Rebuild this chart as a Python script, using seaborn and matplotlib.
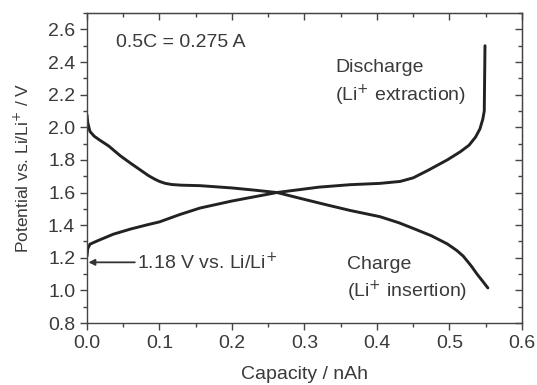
import numpy as np
import pandas as pd
import matplotlib
matplotlib.use("Agg")
import matplotlib.pyplot as plt
import seaborn as sns
from matplotlib.ticker import MultipleLocator

# Li+ insertion (charge), potential falls with capacity
charge_cap = [0.0, 0.001, 0.004, 0.010, 0.018, 0.030, 0.046, 0.060, 0.073, 0.085,
              0.093, 0.100, 0.108, 0.117, 0.130, 0.156, 0.200, 0.230, 0.262, 0.298,
              0.330, 0.363, 0.404, 0.430, 0.450, 0.475, 0.497, 0.510, 0.519, 0.530,
              0.538, 0.546, 0.553]
charge_v = [2.076, 2.03, 1.975, 1.945, 1.920, 1.885, 1.825, 1.780, 1.740, 1.703,
            1.683, 1.668, 1.656, 1.649, 1.645, 1.642, 1.628, 1.615, 1.600, 1.560,
            1.525, 1.490, 1.452, 1.415, 1.380, 1.335, 1.285, 1.245, 1.210, 1.150,
            1.100, 1.055, 1.015]

# Li+ extraction (discharge), potential rises with capacity
dis_cap = [0.0, 0.001, 0.004, 0.015, 0.036, 0.060, 0.083, 0.100, 0.128, 0.156,
           0.200, 0.262, 0.320, 0.363, 0.404, 0.432, 0.450, 0.470, 0.497, 0.515,
           0.527, 0.536, 0.542, 0.546, 0.548, 0.549]
dis_v = [1.21, 1.255, 1.283, 1.305, 1.344, 1.376, 1.402, 1.420, 1.465, 1.505,
         1.548, 1.600, 1.633, 1.648, 1.656, 1.668, 1.690, 1.735, 1.800, 1.850,
         1.890, 1.940, 1.990, 2.050, 2.100, 2.500]

df = pd.concat([
    pd.DataFrame({"cap": charge_cap, "v": charge_v, "run": "charge"}),
    pd.DataFrame({"cap": dis_cap, "v": dis_v, "run": "discharge"}),
])

sns.set_style("ticks")
plt.rcParams["font.family"] = ["Liberation Sans", "DejaVu Sans"]
txt = "#3a3a3a"
fs = 14

fig = plt.figure(figsize=(5.37, 3.85), dpi=100)
ax = fig.add_axes([0.162, 0.161, 0.810, 0.805])

sns.lineplot(data=df, x="cap", y="v", units="run", estimator=None, sort=False,
             color="#222222", linewidth=2.1, ax=ax)

ax.set_xlim(0.0, 0.6)
ax.set_ylim(0.8, 2.7)
ax.xaxis.set_major_locator(MultipleLocator(0.1))
ax.xaxis.set_minor_locator(MultipleLocator(0.05))
ax.yaxis.set_major_locator(MultipleLocator(0.2))
ax.yaxis.set_minor_locator(MultipleLocator(0.1))
ax.tick_params(which="both", direction="out", colors="#444444", labelcolor=txt,
               labelsize=fs, width=1.0)
ax.tick_params(which="major", length=5)
ax.tick_params(which="minor", length=3)

# inward ticks on the top and right edges
secx = ax.secondary_xaxis("top")
secx.xaxis.set_major_locator(MultipleLocator(0.1))
secx.xaxis.set_minor_locator(MultipleLocator(0.05))
secx.tick_params(which="both", direction="in", labeltop=False, colors="#444444", width=1.0)
secx.tick_params(which="major", length=5)
secx.tick_params(which="minor", length=3)
secy = ax.secondary_yaxis("right")
secy.yaxis.set_major_locator(MultipleLocator(0.2))
secy.yaxis.set_minor_locator(MultipleLocator(0.1))
secy.tick_params(which="both", direction="in", labelright=False, colors="#444444", width=1.0)
secy.tick_params(which="major", length=5)
secy.tick_params(which="minor", length=3)

for s in ax.spines.values():
    s.set_visible(True)
    s.set_color("#444444")
    s.set_linewidth(1.0)
for sec in (secx, secy):
    for s in sec.spines.values():
        s.set_color("#444444")

ax.set_xlabel("Capacity / nAh", fontsize=fs, color=txt, labelpad=10)
ax.set_ylabel("Potential vs. Li/Li$^{+}$ / V", fontsize=12.5, color=txt, labelpad=12)

ax.text(0.040, 2.52, "0.5C = 0.275 A", fontsize=fs, color=txt, va="center")
ax.text(0.342, 2.368, "Discharge", fontsize=fs, color=txt, va="center")
ax.text(0.342, 2.198, "(Li$^{+}$ extraction)", fontsize=fs, color=txt, va="center")
ax.text(0.358, 1.161, "Charge", fontsize=fs, color=txt, va="center")
ax.text(0.358, 0.996, "(Li$^{+}$ insertion)", fontsize=fs, color=txt, va="center")

ax.annotate("", xy=(0.002, 1.172), xytext=(0.066, 1.172),
            arrowprops=dict(arrowstyle="-|>", color="#333333", lw=1.3,
                            mutation_scale=9, shrinkA=0, shrinkB=0))
ax.text(0.069, 1.172, "1.18 V vs. Li/Li$^{+}$", fontsize=fs, color=txt, va="center")

fig.savefig("out.png", dpi=100)
